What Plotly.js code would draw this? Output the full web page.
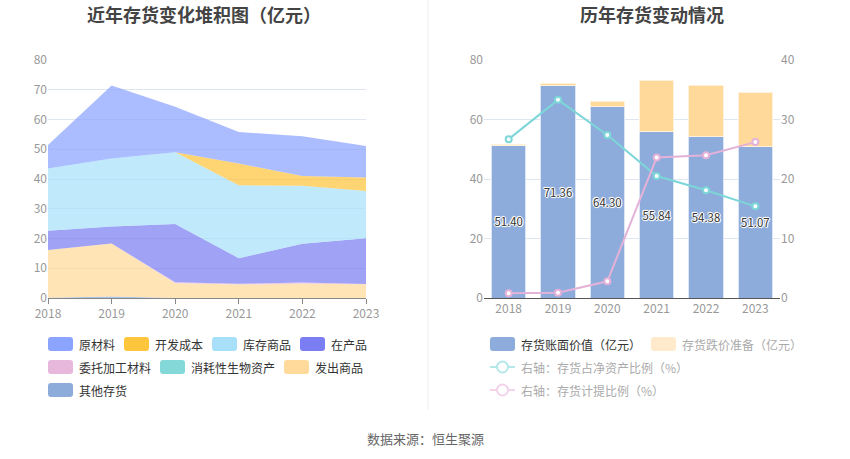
<!DOCTYPE html>
<html>
<head>
<meta charset="utf-8">
<script src="https://cdn.plot.ly/plotly-3.0.1.min.js"></script>
<style>
  html, body { margin: 0; padding: 0; background: #fff; }
  #chart { width: 850px; height: 459px; }
</style>
</head>
<body>
<div id="chart"></div>
<script>
// years on both charts
var years = [2018, 2019, 2020, 2021, 2022, 2023];

// left chart: inventory composition (亿元)
var rawMat     = [7.9, 24.5, 15.3, 10.6, 13.4, 10.6];
var devCost    = [0, 0, 0, 7.3, 3.3, 4.5];
var stockGoods = [20.9, 22.9, 24.1, 24.5, 19.5, 15.9];
var wip        = [6.5, 5.7, 19.6, 8.6, 13.0, 15.4];
var consigned  = [0, 0, 0.3, 0.3, 0.4, 0.1];
var bioAssets  = [0, 0, 0, 0, 0, 0];
var shipped    = [16.0, 17.8, 5.0, 4.5, 4.8, 4.6];
var others     = [0.1, 0.5, 0, 0, 0, 0];

// right chart
var bookValue      = [51.40, 71.36, 64.30, 55.84, 54.38, 51.07];
var provision      = [0.3, 0.8, 1.9, 17.3, 17.2, 18.1];
var netAssetRatio  = [26.7, 33.3, 27.4, 20.5, 18.1, 15.4];
var provisionRatio = [0.8, 0.9, 2.8, 23.6, 24.0, 26.2];

var FONT = '"Noto Sans CJK SC", "Noto Sans", sans-serif';

function rgba(hex, a) {
    var n = parseInt(hex.slice(1), 16);
    return 'rgba(' + (n >> 16) + ',' + ((n >> 8) & 255) + ',' + (n & 255) + ',' + a + ')';
}

// legend order as shown, stacking order is the reverse
var areaSeries = [
    {name: '原材料', y: rawMat, color: '#8AA4FF'},
    {name: '开发成本', y: devCost, color: '#FFC53D'},
    {name: '库存商品', y: stockGoods, color: '#A8E0FA'},
    {name: '在产品', y: wip, color: '#7B7EF3'},
    {name: '委托加工材料', y: consigned, color: '#E8B8DC'},
    {name: '消耗性生物资产', y: bioAssets, color: '#85D8D8'},
    {name: '发出商品', y: shipped, color: '#FFDA9A'},
    {name: '其他存货', y: others, color: '#8DACD9'}
];

var data = [];
areaSeries.slice().reverse().forEach(function (s) {
    data.push({
        x: years, y: s.y, type: 'scatter', mode: 'none',
        stackgroup: 'inv', fillcolor: rgba(s.color, 0.72),
        name: s.name, showlegend: false, hoverinfo: 'skip',
        xaxis: 'x', yaxis: 'y'
    });
});

var yearLabels = years.map(String);
var textShadow = '1px 0 0 #fff, -1px 0 0 #fff, 0 1px 0 #fff, 0 -1px 0 #fff, 1px 1px 1px #fff, -1px -1px 1px #fff';

data.push({
    x: yearLabels, y: bookValue, type: 'bar', name: '存货账面价值（亿元）',
    marker: {color: '#8DACDB', line: {color: '#DCE5F4', width: 1}},
    text: bookValue.map(function (v) { return v.toFixed(2); }),
    textposition: 'inside', insidetextanchor: 'middle', textangle: 0,
    textfont: {family: FONT, size: 13, color: '#333', shadow: textShadow},
    showlegend: false, hoverinfo: 'skip', xaxis: 'x2', yaxis: 'y2'
});
data.push({
    x: yearLabels, y: provision, type: 'bar', name: '存货跌价准备（亿元）',
    marker: {color: '#FFD999', line: {color: '#FFF1DA', width: 1}},
    showlegend: false, hoverinfo: 'skip', xaxis: 'x2', yaxis: 'y2'
});
data.push({
    x: yearLabels, y: netAssetRatio, type: 'scatter', mode: 'lines+markers',
    line: {color: '#7DD6D8', width: 2},
    marker: {symbol: 'circle', size: 6, color: '#fff', line: {color: '#7DD6D8', width: 2}},
    showlegend: false, hoverinfo: 'skip', xaxis: 'x2', yaxis: 'y3'
});
data.push({
    x: yearLabels, y: provisionRatio, type: 'scatter', mode: 'lines+markers',
    line: {color: '#E4B2D8', width: 2},
    marker: {symbol: 'circle', size: 6, color: '#fff', line: {color: '#E4B2D8', width: 2}},
    showlegend: false, hoverinfo: 'skip', xaxis: 'x2', yaxis: 'y3'
});

var W = 850, H = 459;
function px(x) { return x / W; }
function py(y) { return 1 - y / H; }

var shapes = [], annotations = [];

function label(x, y, text, size, color, anchor) {
    annotations.push({text: text, x: px(x), y: py(y), xref: 'paper', yref: 'paper',
        xanchor: anchor, yanchor: 'middle', showarrow: false,
        font: {family: FONT, size: size, color: color}});
}

// titles and source
label(204, 14, '<b>近年存货变化堆积图（亿元）</b>', 18, '#444', 'center');
label(652, 14, '<b>历年存货变动情况</b>', 18, '#444', 'center');
label(425, 438, '数据来源：恒生聚源', 13, '#666', 'center');

// divider between the two panels
shapes.push({type: 'line', xref: 'paper', yref: 'paper', x0: px(428), x1: px(428), y0: py(0), y1: py(410),
    line: {color: '#EEEEEE', width: 1}});

function swatch(x, y, color) {
    var x0 = x, x1 = x + 25, y0 = y - 7, y1 = y + 7, r = 3;
    var path = 'M' + px(x0 + r) + ',' + py(y0) + ' L' + px(x1 - r) + ',' + py(y0) +
        ' Q' + px(x1) + ',' + py(y0) + ' ' + px(x1) + ',' + py(y0 + r) +
        ' L' + px(x1) + ',' + py(y1 - r) + ' Q' + px(x1) + ',' + py(y1) + ' ' + px(x1 - r) + ',' + py(y1) +
        ' L' + px(x0 + r) + ',' + py(y1) + ' Q' + px(x0) + ',' + py(y1) + ' ' + px(x0) + ',' + py(y1 - r) +
        ' L' + px(x0) + ',' + py(y0 + r) + ' Q' + px(x0) + ',' + py(y0) + ' ' + px(x0 + r) + ',' + py(y0) + ' Z';
    shapes.push({type: 'path', xref: 'paper', yref: 'paper', path: path, fillcolor: color, line: {width: 0}});
}
function lineIcon(x, y, color) {
    shapes.push({type: 'line', xref: 'paper', yref: 'paper', x0: px(x), x1: px(x + 25), y0: py(y), y1: py(y),
        line: {color: color, width: 2}});
    shapes.push({type: 'circle', xref: 'paper', yref: 'paper', x0: px(x + 7), x1: px(x + 18), y0: py(y + 5.5), y1: py(y - 5.5),
        fillcolor: '#fff', line: {color: color, width: 2}});
}

// left legend, wrapped into rows
var rows = [[0, 1, 2, 3], [4, 5, 6], [7]];
rows.forEach(function (row, r) {
    var x = 48, y = 344 + r * 23;
    row.forEach(function (i) {
        var s = areaSeries[i];
        swatch(x, y, s.color);
        label(x + 29, y, s.name, 12, '#333', 'left');
        x += 30 + s.name.length * 12 + 10;
    });
});

// right legend
swatch(490, 344, '#8DACDB');
label(519, 344, '存货账面价值（亿元）', 12, '#333', 'left');
swatch(651, 344, '#FFEBCC');
label(680, 344, '存货跌价准备（亿元）', 12, '#AAA', 'left');
lineIcon(490, 367, '#B5E8E9');
label(519, 367, '右轴：存货占净资产比例（%）', 12, '#AAA', 'left');
lineIcon(490, 390, '#F2D3EA');
label(519, 390, '右轴：存货计提比例（%）', 12, '#AAA', 'left');

var yDomain = [py(298), py(60)];
var tickFont = {family: FONT, size: 12, color: '#999'};

var layout = {
    width: W, height: H,
    margin: {l: 0, r: 0, t: 0, b: 0},
    paper_bgcolor: '#fff', plot_bgcolor: 'rgba(0,0,0,0)',
    showlegend: false,
    barmode: 'stack', bargap: 0.3,
    xaxis: {
        domain: [px(48), px(366)], anchor: 'y', type: 'linear', range: [2018, 2023],
        tickvals: years, ticktext: yearLabels, showgrid: false, zeroline: false,
        showline: true, linecolor: '#888', linewidth: 1,
        ticks: 'outside', ticklen: 5, tickcolor: '#888', tickfont: tickFont
    },
    yaxis: {
        domain: yDomain, anchor: 'x', range: [0, 80], dtick: 10,
        showgrid: true, gridcolor: '#E0E6F1', zeroline: false, showline: false,
        tickfont: tickFont, ticks: '', ticklen: 4, tickcolor: '#fff'
    },
    xaxis2: {
        domain: [px(484), px(780)], anchor: 'y2', type: 'category',
        showgrid: false, zeroline: false, showline: true, linecolor: '#555', linewidth: 1,
        ticks: '', tickfont: tickFont
    },
    yaxis2: {
        domain: yDomain, anchor: 'x2', range: [0, 80], dtick: 20,
        showgrid: true, gridcolor: '#E0E6F1', zeroline: false, showline: false,
        tickfont: tickFont, ticks: '', ticklen: 6, tickcolor: '#fff'
    },
    yaxis3: {
        overlaying: 'y2', side: 'right', anchor: 'x2', range: [0, 40], dtick: 10,
        showgrid: false, zeroline: false, showline: false,
        tickfont: tickFont, ticks: '', ticklen: 6, tickcolor: '#fff'
    },
    shapes: shapes,
    annotations: annotations
};

Plotly.newPlot('chart', data, layout, {staticPlot: true, displayModeBar: false});
</script>
</body>
</html>
